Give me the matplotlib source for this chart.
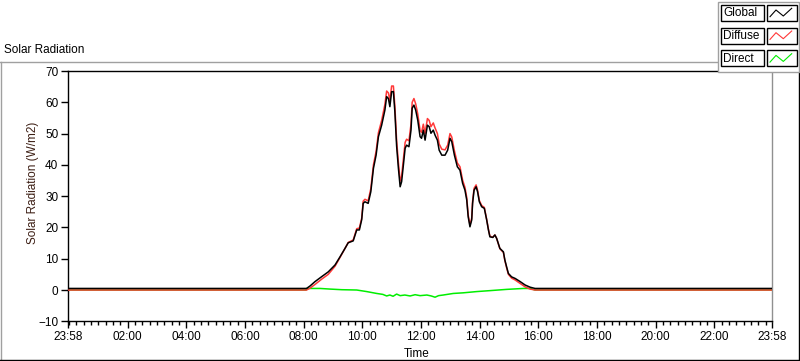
import matplotlib
matplotlib.use("Agg")
import matplotlib.pyplot as plt
import matplotlib.ticker as plticker
from matplotlib.patches import Rectangle
from matplotlib.lines import Line2D

plt.rcParams['font.family'] = ['Liberation Sans', 'DejaVu Sans']

# time of day in hours (chart starts at 23:58 of previous day)
hours = [-0.033, 8.10, 8.22, 8.39, 8.62, 8.84, 9.07, 9.24, 9.41, 9.52, 9.69, 9.81, 9.90,
         9.98, 10.03, 10.09, 10.20, 10.29, 10.38, 10.47, 10.55, 10.66, 10.77, 10.83,
         10.89, 10.94, 11.00, 11.06, 11.11, 11.17, 11.23, 11.29, 11.34, 11.40, 11.46,
         11.51, 11.59, 11.66, 11.70, 11.76, 11.82, 11.89, 11.97, 12.02, 12.08, 12.14,
         12.22, 12.28, 12.34, 12.42, 12.48, 12.56, 12.62, 12.71, 12.82, 12.91, 12.99,
         13.05, 13.14, 13.24, 13.33, 13.42, 13.50, 13.56, 13.61, 13.67, 13.73, 13.76,
         13.81, 13.88, 13.93, 13.99, 14.07, 14.16, 14.24, 14.30, 14.35, 14.45, 14.52,
         14.58, 14.69, 14.81, 14.86, 14.92, 14.98, 15.09, 15.21, 15.38, 15.55, 15.72,
         15.89, 15.95, 23.967]

global_rad = [0.5, 0.5, 1.3, 2.7, 4.3, 5.8, 8.0, 10.6, 13.3, 15.1, 15.7, 19.2, 19.2,
              22.5, 27.7, 28.2, 27.7, 31.4, 38.9, 43.1, 49.0, 52.7, 57.5, 61.8,
              61.2, 58.6, 63.4, 63.4, 57.0, 46.0, 39.0, 33.0, 34.6, 39.9, 45.3,
              46.3, 45.8, 51.1, 58.1, 59.1, 57.5, 54.3, 49.0, 48.5, 51.1, 47.9,
              52.7, 52.2, 50.1, 51.1, 49.5, 47.9, 44.7, 43.1, 43.1, 44.7, 48.5,
              47.4, 43.1, 39.4, 38.3, 34.1, 31.9, 28.8, 23.4, 20.2, 22.4, 27.7,
              31.9, 33.0, 31.4, 28.2, 26.6, 26.1, 22.4, 19.2, 17.0, 16.8, 17.6,
              16.5, 13.3, 12.2, 9.6, 7.4, 5.3, 4.2, 3.7, 2.7, 1.6, 0.9,
              0.5, 0.5, 0.5]

diffuse_rad = [0.0, 0.0, 0.6, 1.8, 3.5, 5.0, 7.6, 10.4, 13.3, 15.2, 16.0, 19.6, 19.8,
               23.0, 28.4, 29.0, 28.5, 32.4, 40.0, 44.3, 50.3, 54.2, 59.3, 63.6,
               63.0, 60.5, 65.2, 65.2, 58.8, 47.8, 40.8, 34.8, 36.4, 41.8, 47.2,
               48.2, 47.7, 53.0, 60.0, 61.2, 59.5, 56.3, 51.0, 50.4, 53.0, 50.0,
               54.8, 54.2, 52.2, 53.4, 51.8, 50.0, 46.7, 45.0, 44.8, 46.3, 50.0,
               48.9, 44.5, 40.6, 39.4, 35.1, 32.8, 29.6, 24.0, 20.8, 23.0, 28.4,
               32.5, 33.6, 31.9, 28.6, 27.0, 26.4, 22.6, 19.4, 17.2, 16.9, 17.6,
               16.5, 13.2, 12.0, 9.4, 7.1, 5.0, 3.8, 3.2, 2.1, 1.0, 0.3,
               0.0, 0.0, 0.0]

direct_hours = [-0.033, 8.08, 8.10, 8.56, 8.90, 9.30, 9.81, 10.15, 10.49, 10.70, 10.83,
                10.94, 11.05, 11.17, 11.29, 11.45, 11.63, 11.80, 11.97, 12.20, 12.35,
                12.48, 12.60, 12.76, 13.10, 13.44, 13.90, 14.35, 14.92, 15.49, 15.72,
                15.89, 23.967]
direct_rad = [0, 0, 0.5, 0.5, 0.3, 0.1, 0.0, -0.5, -1.1, -1.4, -1.9,
              -1.6, -2.0, -1.3, -1.8, -1.6, -1.9, -1.5, -1.8, -1.6, -1.9,
              -2.3, -1.8, -1.6, -1.1, -0.9, -0.5, -0.2, 0.2, 0.5, 0.5,
              0.0, 0.0]

tick_hours = [-0.033, 2, 4, 6, 8, 10, 12, 14, 16, 18, 20, 22, 23.967]
tick_labels = ['23:58', '02:00', '04:00', '06:00', '08:00', '10:00', '12:00',
               '14:00', '16:00', '18:00', '20:00', '22:00', '23:58']

W, H = 800, 361
fig = plt.figure(figsize=(W / 100, H / 100), dpi=100)
fig.patch.set_facecolor('white')

def fx(x):
    return x / W

def fy(y):
    return 1 - y / H

ax = fig.add_axes([fx(68), fy(321.3), (772 - 68) / W, (321.3 - 71) / H])
ax.plot(direct_hours, direct_rad, color='#00ee00', lw=1.1, zorder=2)
ax.plot(hours, diffuse_rad, color='#ff3838', lw=1.1, zorder=3)
ax.plot(hours, global_rad, color='black', lw=1.1, zorder=4)

ax.set_xlim(-0.033, 23.967)
ax.set_ylim(-10, 70)
ax.set_yticks(range(-10, 71, 10))
ax.set_xticks(tick_hours)
ax.set_xticklabels(tick_labels)
ax.xaxis.set_minor_locator(plticker.MultipleLocator(0.25))
ax.tick_params(axis='both', which='major', length=5, width=1, labelsize=8.5, pad=2)
ax.tick_params(axis='x', which='minor', length=3, width=1)
for s in ['left', 'top', 'bottom']:
    ax.spines[s].set_color('black')
    ax.spines[s].set_linewidth(1)
ax.spines['right'].set_color('#909090')
ax.spines['right'].set_linewidth(1)

fig.text(fx(4), fy(50), 'Solar Radiation', fontsize=8.5, va='center', ha='left')
fig.text(fx(33), fy(183), 'Solar Radiation (W/m2)', fontsize=8.5, rotation=90,
         va='center', ha='center', color='#3c1e14')
fig.text(fx(417), fy(354), 'Time', fontsize=8.5, va='center', ha='center')

# panel frame
fig.add_artist(Line2D([fx(0), fx(718)], [fy(61.5), fy(61.5)], color='#a0a0a0', lw=1))
fig.add_artist(Line2D([fx(1), fx(1)], [fy(61.5), fy(359.5)], color='#a0a0a0', lw=1))
fig.add_artist(Line2D([fx(0), fx(800)], [fy(359.5), fy(359.5)], color='black', lw=1))
fig.add_artist(Line2D([fx(799), fx(799)], [fy(72), fy(360)], color='black', lw=1))

# legend
fig.add_artist(Rectangle((fx(718), fy(72)), 81 / W, 70 / H, transform=fig.transFigure,
                         facecolor='white', edgecolor='#a0a0a0', lw=1, zorder=5))
names = ['Global', 'Diffuse', 'Direct']
colors = ['black', '#ff3838', '#00ee00']
for i, (name, col) in enumerate(zip(names, colors)):
    top = 5 + i * 22.7
    fig.add_artist(Rectangle((fx(721), fy(top + 16)), 43 / W, 16 / H,
                             transform=fig.transFigure, facecolor='white',
                             edgecolor='black', lw=1, zorder=6))
    fig.text(fx(723), fy(top + 8.5), name, fontsize=8.5, va='center', ha='left', zorder=7)
    fig.add_artist(Rectangle((fx(767), fy(top + 16)), 30 / W, 16 / H,
                             transform=fig.transFigure, facecolor='white',
                             edgecolor='black', lw=1, zorder=6))
    zx = [770, 776, 783.3, 791.7]
    zy = [top + 11.7, top + 5, top + 11, top + 3.3]
    fig.add_artist(Line2D([fx(v) for v in zx], [fy(v) for v in zy], color=col,
                          lw=0.8, zorder=7))

fig.savefig('out.png', dpi=100, facecolor='white')
